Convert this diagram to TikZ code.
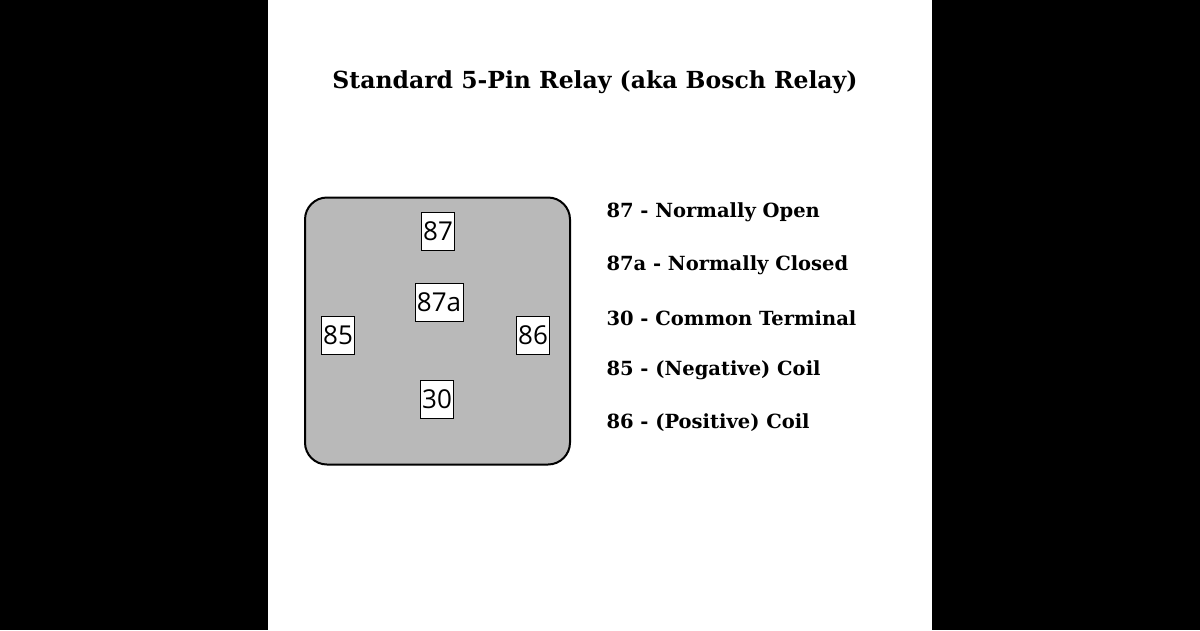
\documentclass[tikz,border=0pt]{standalone}
\usepackage{fontspec}
\setmainfont{DejaVu Serif}
\newfontfamily\pinfont{Open Sans}
\begin{document}
\begin{tikzpicture}[x=1pt,y=-1pt,
  pin/.style={draw=black,fill=white,line width=0.8pt,inner xsep=2pt,inner ysep=0pt,minimum height=38pt,font=\pinfont\fontsize{26}{28}\selectfont},
  legend/.style={anchor=west,font=\bfseries\fontsize{19.5}{22}\selectfont}]
\useasboundingbox (0,0) rectangle (1200,630);
\fill[black] (0,0) rectangle (1200,630);
\fill[white] (268,0) rectangle (932,630);
\node[font=\bfseries\fontsize{23.5}{26}\selectfont] (title) at (595,82) {Standard 5-Pin Relay (aka Bosch Relay)};
\node[draw=black,line width=2pt,fill=gray!55!white,rounded corners=22pt,minimum width=265pt,minimum height=267pt] (relay) at (437.5,331) {};
\node[pin] (p87) at (438,231) {87};
\node[pin] (p87a) at (439,302) {87a};
\node[pin] (p85) at (338,335) {85};
\node[pin] (p86) at (533,335) {86};
\node[pin] (p30) at (437,399) {30};
\node[legend] (l1) at (603,212) {87 - Normally Open};
\node[legend] (l2) at (603,265) {87a - Normally Closed};
\node[legend] (l3) at (603,318) {30 - Common Terminal};
\node[legend] (l4) at (603,370) {85 - (Negative) Coil};
\node[legend] (l5) at (603,423) {86 - (Positive) Coil};
\end{tikzpicture}
\end{document}
